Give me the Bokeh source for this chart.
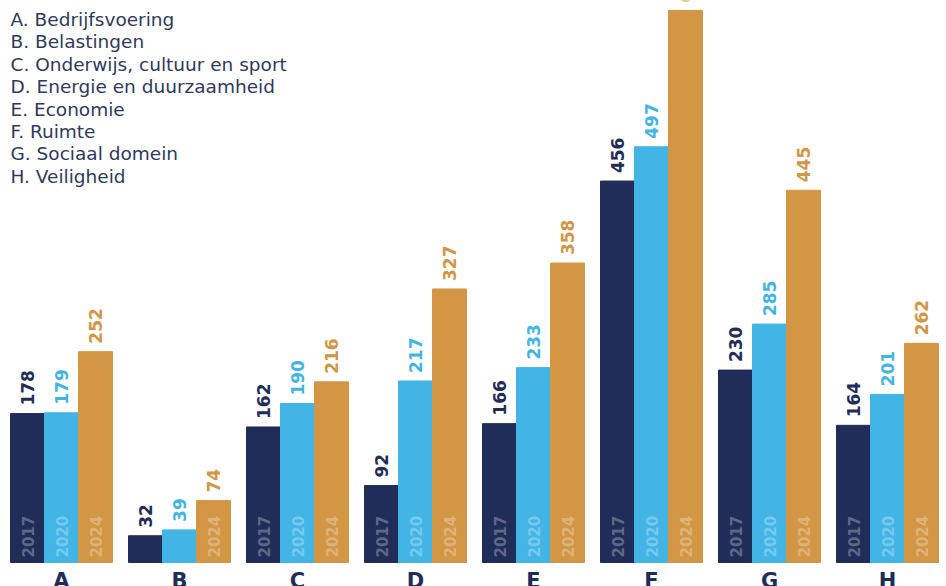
import numpy as np
from bokeh.plotting import figure
from bokeh.models import ColumnDataSource, Range1d, Label
from bokeh.core.properties import value
from bokeh.embed import file_html
from bokeh.resources import INLINE

categories = ["A", "B", "C", "D", "E", "F", "G", "H"]
legend_items = ["A. Bedrijfsvoering", "B. Belastingen", "C. Onderwijs, cultuur en sport",
                "D. Energie en duurzaamheid", "E. Economie", "F. Ruimte",
                "G. Sociaal domein", "H. Veiligheid"]
years = ["2017", "2020", "2024"]
v2017 = [178, 32, 162, 92, 166, 456, 230, 164]
v2020 = [179, 39, 190, 217, 233, 497, 285, 201]
v2024 = [252, 74, 216, 327, 358, 660, 445, 262]
series = [v2017, v2020, v2024]
colors = ["#1f2d58", "#42b5e6", "#d29645"]

FONT = "DejaVu Sans"
W, H = 946, 586
px_per_cat = 118.0
bar_w = 34.0 / px_per_cat
x_start = -61.0 / px_per_cat
y_scale = 0.8365  # px per unit
y_start = -24.0 / y_scale
y_end = y_start + H / y_scale

p = figure(width=W, height=H, output_backend="svg", toolbar_location=None,
           x_range=Range1d(x_start, x_start + W / px_per_cat),
           y_range=Range1d(y_start, y_end),
           min_border=0)
p.axis.visible = False
p.grid.visible = False
p.outline_line_color = None
p.background_fill_color = "white"
p.border_fill_color = "white"

idx = np.arange(len(categories))
for k, (vals, col, yr) in enumerate(zip(series, colors, years)):
    xs = idx + (k - 1) * bar_w
    src = ColumnDataSource(dict(x=xs, top=vals, lab=[str(v) for v in vals]))
    p.vbar(x="x", top="top", bottom=0, width=bar_w, color=col, source=src)
    p.text(x="x", y="top", text="lab", source=src, angle=np.pi / 2,
           text_align="left", text_baseline="middle", y_offset=-8,
           text_font=value(FONT), text_font_style="bold", text_font_size="17px",
           text_color=col)
    tall = [i for i, v in enumerate(vals) if v >= 60]
    ysrc = ColumnDataSource(dict(x=xs[tall], y=[0] * len(tall), yr=[yr] * len(tall)))
    p.text(x="x", y="y", text="yr", source=ysrc, angle=np.pi / 2,
           text_align="left", text_baseline="middle", y_offset=-5,
           text_font=value(FONT), text_font_style="bold", text_font_size="15px",
           text_color="white", text_alpha=0.3)

csrc = ColumnDataSource(dict(x=idx, y=[0] * len(categories), t=categories))
p.text(x="x", y="y", text="t", source=csrc, text_align="center", text_baseline="top",
       y_offset=6, text_font=value(FONT), text_font_style="bold", text_font_size="21px",
       text_color="#1f2d58")

for i, item in enumerate(legend_items):
    p.add_layout(Label(x=10, y=H - 19 - i * 22.4, x_units="screen", y_units="screen",
                       text=item, text_font=FONT, text_font_size="18.5px",
                       text_color="#2e3a5c", text_baseline="middle", text_align="left"))

open("out.html", "w").write(file_html(p, INLINE))
